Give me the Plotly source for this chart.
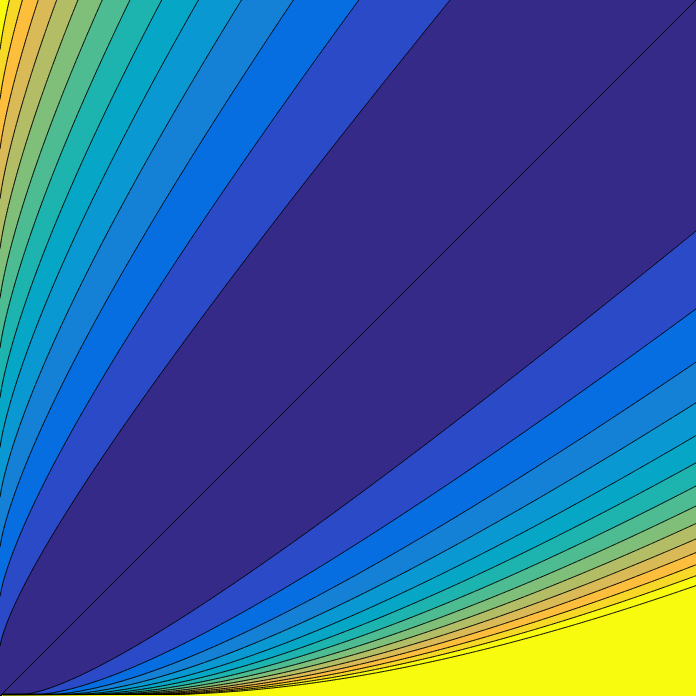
import numpy as np
import plotly.graph_objects as go

# grid for the two non-negative quantities (x = p, y = q)
x = np.linspace(0.0, 1.0, 421)
y = np.linspace(0.0, 1.0, 421)

# contour levels: 0 .. 1 in 14 steps
level_start = 0.0
level_end = 1.0
level_step = 1.0 / 14

# fill colours of the 14 bands (parula) plus the region above the last level
band_colors = [
    "#352a87", "#2b4ac7", "#066ee1", "#1481d6", "#0998d1", "#06a7c6", "#1db3af",
    "#4dbc92", "#80bf79", "#b2bd66", "#d9ba56", "#fdbe3d", "#f7d826", "#f9fb0e",
]
over_color = "#f9fb0e"

# generalised Kullback-Leibler divergence  D(x||y) = x log(x/y) - x + y
X, Y = np.meshgrid(x, y)
with np.errstate(divide="ignore", invalid="ignore"):
    term = np.where(X > 0, X * np.log(X / Y), 0.0)
Z = term - X + Y
Z = np.where(np.isfinite(Z), Z, 5.0)
Z = np.minimum(Z, 5.0)

# signed copy, only used to draw the zero level (the diagonal)
Z_signed = np.sign(Y - X) * Z

# plotly colours band k at fraction (k+1)/n, so place each colour exactly there
n = len(band_colors) + 1
colorscale = [[0.0, band_colors[0]]]
for k, c in enumerate(band_colors):
    colorscale.append([(k + 1) / n, c])
colorscale.append([1.0, over_color])

fig = go.Figure()
fig.add_trace(go.Contour(
    x=x,
    y=y,
    z=Z,
    colorscale=colorscale,
    showscale=False,
    contours=dict(
        start=level_start,
        end=level_end,
        size=level_step,
        coloring="fill",
        showlines=True,
    ),
    line=dict(color="black", width=1),
    hoverinfo="skip",
))

# zero contour
fig.add_trace(go.Contour(
    x=x,
    y=y,
    z=Z_signed,
    showscale=False,
    contours=dict(start=0, end=0, size=1, coloring="none"),
    line=dict(color="black", width=1),
    hoverinfo="skip",
))

fig.update_layout(
    width=696,
    height=696,
    margin=dict(l=0, r=0, t=0, b=0),
    paper_bgcolor="white",
    plot_bgcolor="white",
    showlegend=False,
    xaxis=dict(visible=False, range=[0, 1], fixedrange=True),
    yaxis=dict(visible=False, range=[0, 1], fixedrange=True),
)

fig.write_html(
    "out.html",
    config={"displayModeBar": False, "staticPlot": True},
    post_script="document.body.style.margin='0';document.body.style.overflow='hidden';",
)
